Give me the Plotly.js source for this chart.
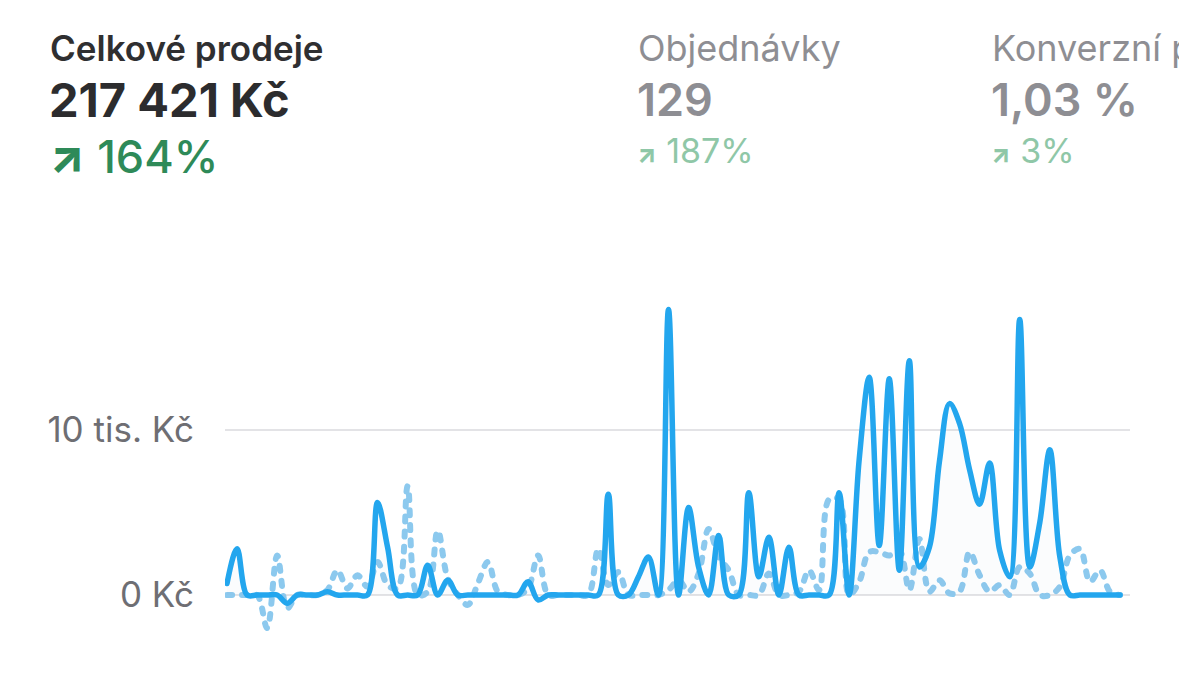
<!DOCTYPE html>
<html>
<head>
<meta charset="utf-8">
<script src="https://cdn.plot.ly/plotly-3.0.1.min.js"></script>
<style>
  html, body { margin: 0; padding: 0; background: #ffffff; }
  #chart { width: 1179px; height: 693px; }
</style>
</head>
<body>
<div id="chart"></div>
<script>
// ---- data (values in Kč) ----
const days = Array.from({length: 90}, (_, i) => i);
const currentSales = [
  700, 2800, 0, 0, 0, 0, -500, 0, 0, 0,
  200, 0, 0, 0, 0, 5600, 2900, 0, 0, 0,
  1800, 0, 900, 0, 0, 0, 0, 0, 0, 0,
  800, -300, 0, 0, 0, 0, 0, 0, 6100, 0,
  0, 1100, 2300, 0, 17300, 0, 5300, 1700, 0, 3600,
  0, 0, 6200, 1100, 3500, 0, 2900, 0, 0, 0,
  0, 6200, 0, 8200, 13200, 3000, 13100, 1500, 14200, 1700,
  2900, 8100, 11600, 10400, 7600, 5500, 8000, 2700, 1100, 16700,
  1700, 4400, 8800, 2300, 0, 0, 0, 0, 0, 0
];
const previousSales = [
  0, 0, 0, 0, -2000, 2400, -800, 0, 0, 0,
  300, 1500, 400, 1200, 500, 2000, 600, 400, 6600, 0,
  200, 3900, 1000, 0, -600, 700, 2000, 200, 0, 0,
  400, 2400, 0, 0, 0, 0, 0, 2800, 600, 1400,
  0, 0, 0, 0, 300, 900, 200, 1300, 4000, 2300,
  1500, 0, 0, 0, 1300, 0, 0, 200, 1500, 300,
  5800, 5800, 0, 800, 2600, 2600, 2400, 2700, 300, 3400,
  200, 900, 100, 200, 2600, 1200, 200, 600, 0, 1700,
  1300, 0, 0, 500, 2400, 2800, 800, 1500, 200, 0
];
const tickValues = [0, 10000];
const tickLabels = ['0 Kč', '10 tis. Kč'];

// header texts
const metricTitles = ['Celkové prodeje', 'Objednávky', 'Konverzní poměr'];
const metricValues = ['217 421 Kč', '129', '1,03 %'];
const metricChanges = ['164%', '187%', '3%'];

// ---- layout helpers ----
const L = 225, R = 1130, T = 290, B = 640;
const px2x = p => (p - L) / (R - L);
const px2y = p => (B - p) / (B - T);

const FONT = 'Inter, "Noto Sans", "DejaVu Sans", sans-serif';

const traces = [
  {
    x: days, y: previousSales, type: 'scatter', mode: 'lines',
    line: {shape: 'spline', smoothing: 1, color: '#8cc9ee', width: 6, dash: '5px,10px'},
    hoverinfo: 'skip', showlegend: false
  },
  {
    x: days, y: currentSales, type: 'scatter', mode: 'lines',
    line: {shape: 'spline', smoothing: 1, color: '#23a6ee', width: 5.5},
    fill: 'tozeroy', fillcolor: 'rgba(150,165,190,0.035)',
    hoverinfo: 'skip', showlegend: false
  }
];

const colX = [50, 638, 992];
const annotations = [];
metricTitles.forEach((t, k) => {
  const first = k === 0;
  annotations.push({
    xref: 'paper', yref: 'paper', x: px2x(colX[k] - 2), y: px2y(48),
    xanchor: 'left', yanchor: 'middle', showarrow: false, text: t,
    font: {family: FONT, size: first ? 35 : 36, weight: first ? 600 : 400, color: first ? '#2f2f31' : '#8e8e93'}
  });
  annotations.push({
    xref: 'paper', yref: 'paper', x: px2x(colX[k] - 3), y: px2y(100),
    xanchor: 'left', yanchor: 'middle', showarrow: false, text: metricValues[k],
    font: {family: FONT, size: first ? 47 : 45, weight: first ? 700 : 600, color: first ? '#2c2c2e' : '#8e8e93'}
  });
  annotations.push({
    xref: 'paper', yref: 'paper', x: px2x(colX[k] - 3), y: px2y(first ? 156 : 151),
    xanchor: 'left', yanchor: 'middle', showarrow: false,
    text: (first ? '<span style="font-size:46px;font-weight:800">↗</span> ' : '<span style="font-size:25px;font-weight:800">↗</span> ') + metricChanges[k],
    font: {family: FONT, size: first ? 45 : 34, weight: first ? 500 : 400, color: first ? '#2e8a58' : '#8fc7a7'}
  });
});

const layout = {
  width: 1179, height: 693,
  margin: {l: L, r: 1179 - R, t: T, b: 693 - B, pad: 0},
  paper_bgcolor: '#ffffff', plot_bgcolor: '#ffffff',
  showlegend: false,
  xaxis: {
    range: [-0.2, 89.99], showgrid: false, zeroline: false,
    showticklabels: false, ticks: '', showline: false, fixedrange: true
  },
  yaxis: {
    range: [-2727, 18485], tickvals: tickValues, ticktext: tickLabels,
    showgrid: true, gridcolor: '#e3e3e6', gridwidth: 2, zeroline: false,
    showline: false, ticks: 'outside', ticklen: 23, tickcolor: 'rgba(0,0,0,0)',
    tickfont: {family: FONT, size: 35, color: '#6e6e73'}, fixedrange: true
  },
  annotations: annotations,
  font: {family: FONT}
};

Plotly.newPlot('chart', traces, layout, {displayModeBar: false, staticPlot: true}).then(() => {
  document.querySelectorAll('#chart .scatterlayer path.js-line').forEach(p => {
    p.style.strokeLinecap = 'round';
    p.style.strokeLinejoin = 'round';
  });
});
</script>
</body>
</html>
